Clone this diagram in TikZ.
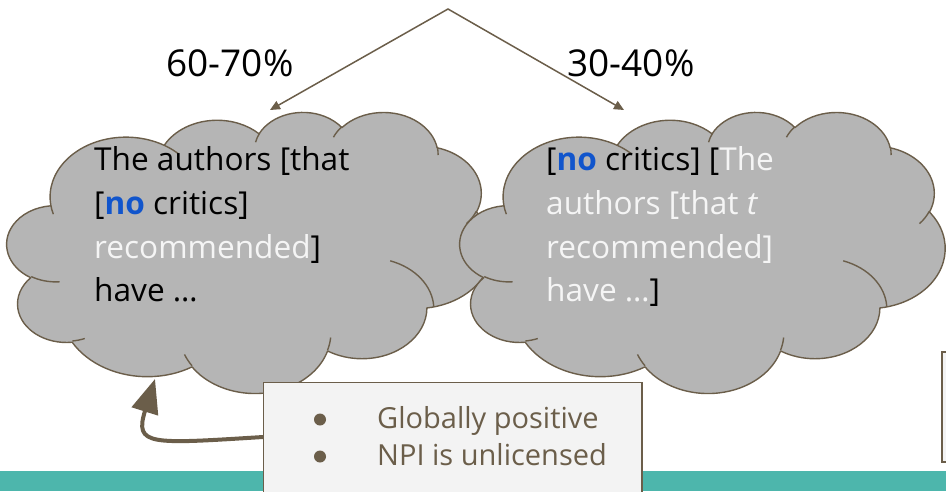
\documentclass[tikz,border=0pt]{standalone}
\usepackage{fontspec}
\setmainfont{Open Sans}
\usetikzlibrary{arrows.meta}
\definecolor{edgebrown}{RGB}{107,94,74}
\definecolor{cloudgray}{RGB}{181,181,181}
\definecolor{boxpale}{RGB}{243,243,243}
\definecolor{bandteal}{RGB}{77,182,172}
\definecolor{noblue}{RGB}{17,85,204}
\definecolor{palewhite}{RGB}{245,245,245}
\newcommand\ppcalc[4]{%
  \pgfmathparse{atan2((#1)*sin(#3),(#2)*cos(#3))}\xdef\ppa{\pgfmathresult}%
  \pgfmathparse{atan2((#1)*sin((#3)+(#4)),(#2)*cos((#3)+(#4)))}\xdef\ppb{\pgfmathresult}%
  \pgfmathparse{mod(\ppb-\ppa+720,360)}\xdef\ppd{\pgfmathresult}%
}
\tikzset{
  pparc/.style n args={4}{insert path={\pgfextra{\ppcalc{#1}{#2}{#3}{#4}} arc[x radius=#1, y radius=#2, start angle=\ppa, delta angle=\ppd]}},
  cloudline/.style={draw=edgebrown, line width=1.4pt, line join=round},
  cloudtext/.style={anchor=base west, inner sep=0pt, font=\fontsize{31.6}{36}\selectfont, text=black},
  pctlabel/.style={anchor=base, inner sep=0pt, font=\fontsize{37}{42}\selectfont, text=black},
  bullettext/.style={anchor=base west, inner sep=0pt, font=\fontsize{29}{34}\selectfont, text=edgebrown},
  bulletdot/.style={circle, fill=edgebrown, inner sep=0pt, minimum size=12pt},
  notebox/.style={draw=edgebrown, fill=boxpale, line width=1.5pt},
}
\newcommand\pptcloud{%
  \path[fill=cloudgray, cloudline] (39.00,143.70)
    [pparc={67.53}{91.90}{-190.48748}{123.78053}]
    [pparc={53.33}{72.67}{-144.10238}{89.94523}]
    [pparc={43.65}{59.45}{-145.80792}{99.72302}]
    [pparc={48.57}{65.95}{-130.98607}{117.24173}]
    [pparc={53.33}{72.73}{-78.70888}{109.02692}]
    [pparc={67.75}{92.20}{-46.26725}{130.269}]
    [pparc={57.85}{78.67}{0.62502}{114.03333}]
    [pparc={67.52}{92.15}{22.4516}{115.17255}]
    [pparc={77.20}{105.43}{66.24263}{75.71102}]
    [pparc={43.60}{59.18}{-274.94208}{146.73557}]
    [pparc={43.45}{59.45}{-246.8285}{152.51885}]
    -- cycle;
  \path[cloudline]
    (46.93,261.77) [pparc={43.45}{59.45}{86.742}{26.4295}]
    (69.28,348.99) [pparc={43.60}{59.18}{73.61047}{11.44747}]
    (164.78,390.90) [pparc={67.52}{92.15}{137.62415}{14.0811}]
    (288.27,347.51) [pparc={67.52}{92.15}{6.45327}{15.99835}]
    (341.29,229.54) [pparc={57.85}{78.67}{-75.7}{72}]
    (417.98,153.54) [pparc={53.33}{72.73}{30.31803}{19.45}]
    (383.24,54.26) [pparc={48.57}{65.95}{-13.74433}{14.8589}]
    (290.78,39.52) [pparc={48.57}{65.95}{-149.18145}{18.19537}]
    (221.41,47.20) [pparc={43.65}{59.45}{-163.49427}{17.68635}]
    (140.00,51.92) [pparc={67.53}{91.90}{-66.70695}{12.31935}]
    (41.27,157.89) [pparc={67.53}{91.90}{157.65435}{11.85817}];
}
\begin{document}
\begin{tikzpicture}[x=1pt,y=-1pt]
\useasboundingbox (0,0) rectangle (946,491);
\clip (0,0) rectangle (946,491);
% teal band
\fill[bandteal] (0,471) rectangle (946,491);
% top arrows
\coordinate (apex) at (448,9);
\coordinate (ltip) at (270,110);
\coordinate (rtip) at (624,110);
\draw[edgebrown, line width=1.5pt, line join=miter,
  {Triangle[length=10pt,width=9pt]}-{Triangle[length=10pt,width=9pt]}]
  (ltip) -- (apex) -- (rtip);
\node[pctlabel] (lpct) at (230,76.5) {60-70\%};
\node[pctlabel] (rpct) at (631,76.5) {30-40\%};
% clouds
\begin{scope}[shift={(7,111.5)}, x=1.12269pt, y=-0.650463pt]
  \pptcloud
\end{scope}
\begin{scope}[shift={(460,111.5)}, x=1.12269pt, y=-0.650463pt]
  \pptcloud
\end{scope}
% left cloud text
\node[cloudtext] (l1) at (94,170.7) {The authors [that};
\node[cloudtext] (l2) at (94,214.4) {[\textcolor{noblue}{\bfseries no} critics]};
\node[cloudtext] (l3) at (94,258.1) {\textcolor{palewhite}{recommended}]};
\node[cloudtext] (l4) at (94,301.8) {have …};
% right cloud text
\node[cloudtext] (r1) at (546,170.7) {[\textcolor{noblue}{\bfseries no} critics] [\textcolor{palewhite}{The}};
\node[cloudtext, text=palewhite] (r2) at (546,214.4) {authors [that \textit{t}};
\node[cloudtext, text=palewhite] (r3) at (546,258.1) {recommended]};
\node[cloudtext] (r4) at (546,301.8) {\textcolor{palewhite}{have …}]};
% thick curved arrow
\coordinate (astart) at (263,437);
\coordinate (atip) at (155,379);
\draw[edgebrown, line width=4pt,
  -{Triangle[length=34pt,width=27pt]}]
  (astart) .. controls (150,444) and (134,446) .. (atip);
% note box
\node[notebox, anchor=north west, minimum width=378.5pt, minimum height=140pt, inner sep=0pt] (box) at (262.5,381.5) {};
\node[bulletdot] (b1) at (320,419.5) {};
\node[bulletdot] (b2) at (320,456.5) {};
\node[bullettext] (t1) at (377,428) {Globally positive};
\node[bullettext] (t2) at (377,465) {NPI is unlicensed};
% right edge box
\node[notebox, anchor=north west, minimum width=20pt, minimum height=110pt, inner sep=0pt] (edgebox) at (941,351) {};
\end{tikzpicture}
\end{document}
